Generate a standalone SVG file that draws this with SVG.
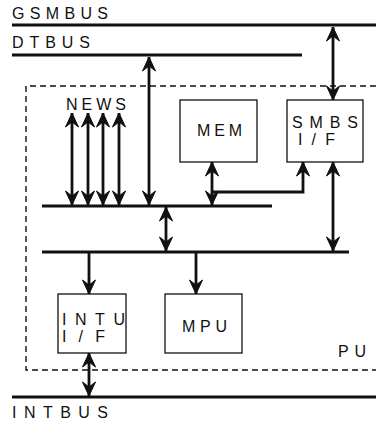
<svg xmlns="http://www.w3.org/2000/svg" width="376" height="427" viewBox="0 0 376 427">
<defs>
<style>
text{font-family:"Liberation Sans",Arial,sans-serif;font-size:16px;fill:#111;}
.bus{stroke:#111;stroke-width:3;fill:none;}
.box{stroke:#111;stroke-width:1.3;fill:#fff;}
.arr{stroke:#111;stroke-width:2.8;fill:none;marker-end:url(#ah);}
.arr2{stroke:#111;stroke-width:2.8;fill:none;marker-start:url(#ah);marker-end:url(#ah);}
.dash{stroke:#111;stroke-width:1.4;fill:none;stroke-dasharray:6 4;}
</style>
<marker id="ah" viewBox="-16 -8 17 16" refX="0" refY="0" markerWidth="17" markerHeight="16" markerUnits="userSpaceOnUse" orient="auto-start-reverse">
<path d="M0,0 L-14,-6.5 L-9,0 L-14,6.5 Z" fill="#111" stroke="#111" stroke-width="1" stroke-linejoin="round"/>
</marker>
</defs>
<rect width="376" height="427" fill="#fff"/>
<g id="pu-boundary">
<path class="dash" d="M376,86 H26 V370 H376"/>
<text x="338" y="357" textLength="28" lengthAdjust="spacing">PU</text>
</g>
<g id="gsmbus">
<line class="bus" x1="12" y1="25" x2="376" y2="25"/>
<text x="12" y="19" textLength="96" lengthAdjust="spacing">GSMBUS</text>
</g>
<g id="dtbus">
<line class="bus" x1="12" y1="55" x2="302" y2="55"/>
<text x="12" y="48" textLength="78" lengthAdjust="spacing">DTBUS</text>
</g>
<g id="intbus">
<line class="bus" x1="12" y1="397" x2="376" y2="397"/>
<text x="12" y="418" textLength="96" lengthAdjust="spacing">INTBUS</text>
</g>
<g id="bus1"><line class="bus" x1="42" y1="206" x2="272" y2="206"/></g>
<g id="bus2"><line class="bus" x1="42" y1="252" x2="349" y2="252"/></g>
<g id="news">
<text x="66" y="110" textLength="60" lengthAdjust="spacing">NEWS</text>
</g>
<g id="mem">
<rect class="box" x="180" y="100" width="77" height="62"/>
<text x="197" y="136" textLength="45" lengthAdjust="spacing">MEM</text>
</g>
<g id="smbs-if">
<rect class="box" x="287" y="100" width="76" height="62"/>
<text x="292" y="128" textLength="66" lengthAdjust="spacing">SMBS</text>
<text x="298" y="145" textLength="37" lengthAdjust="spacing">I/F</text>
</g>
<g id="intu-if">
<rect class="box" x="58" y="294" width="68" height="59"/>
<text x="62" y="325" textLength="63" lengthAdjust="spacing">INTU</text>
<text x="62" y="342" textLength="43" lengthAdjust="spacing">I/F</text>
</g>
<g id="mpu">
<rect class="box" x="165" y="294" width="77" height="59"/>
<text x="182" y="332" textLength="45" lengthAdjust="spacing">MPU</text>
</g>
<g id="connectors">
<line class="arr2" x1="333" y1="27" x2="333" y2="100"/>
<line class="arr2" x1="149" y1="57" x2="149" y2="205"/>
<line class="arr2" x1="72" y1="113" x2="72" y2="205"/>
<line class="arr2" x1="88" y1="113" x2="88" y2="205"/>
<line class="arr2" x1="103" y1="113" x2="103" y2="205"/>
<line class="arr2" x1="119" y1="113" x2="119" y2="205"/>
<line class="arr2" x1="212" y1="162" x2="212" y2="205"/>
<path class="arr" d="M212,192 H303 V162"/>
<line class="arr2" x1="333" y1="162" x2="333" y2="251"/>
<line class="arr2" x1="166" y1="207" x2="166" y2="251"/>
<line class="arr" x1="89" y1="253" x2="89" y2="294"/>
<line class="arr" x1="196" y1="253" x2="196" y2="294"/>
<line class="arr2" x1="89" y1="353" x2="89" y2="396"/>
</g>
</svg>
